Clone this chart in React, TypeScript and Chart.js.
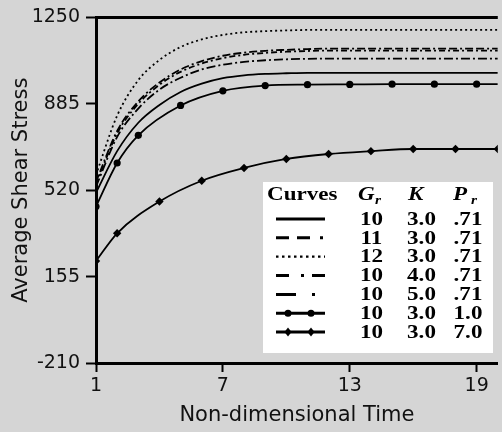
import React, { useEffect, useRef } from 'react';
import { Chart, registerables } from 'chart.js';

Chart.register(...registerables);

// ---- data ----
const timeSteps = [1, 2, 3, 4, 5, 6, 7, 8, 9, 10, 11, 12, 13, 14, 15, 16, 17, 18, 19, 20];
const stressGr10 = [510, 685, 805, 880, 935, 970, 993, 1005, 1011, 1014, 1016, 1016, 1016, 1016, 1016, 1016, 1016, 1016, 1016, 1016];
const stressGr11 = [555, 770, 895, 975, 1030, 1065, 1088, 1101, 1109, 1113, 1116, 1118, 1118, 1118, 1118, 1118, 1118, 1118, 1118, 1118];
const stressGr12 = [585, 835, 985, 1070, 1125, 1157, 1176, 1187, 1192, 1195, 1197, 1197, 1197, 1197, 1197, 1197, 1197, 1197, 1197, 1197];
const stressK4 = [545, 760, 885, 965, 1020, 1055, 1078, 1092, 1100, 1105, 1108, 1110, 1110, 1110, 1110, 1110, 1110, 1110, 1110, 1110];
const stressK5 = [535, 745, 865, 945, 995, 1030, 1050, 1062, 1069, 1073, 1075, 1076, 1076, 1076, 1076, 1076, 1076, 1076, 1076, 1076];
const timePr1 = [1, 2, 3, 5, 7, 9, 11, 13, 15, 17, 19, 20];
const stressPr1 = [451, 635, 752, 878, 940, 962, 966, 967, 968, 968, 968, 968];
const timePr7 = [1, 2, 4, 6, 8, 10, 12, 14, 16, 18, 20];
const stressPr7 = [221, 338, 472, 560, 614, 652, 673, 685, 694, 694, 694];

const xTicks = [1, 7, 13, 19];
const yTicks = [-210, 155, 520, 885, 1250];

const legendGr = ['10', '11', '12', '10', '10', '10', '10'];
const legendK = ['3.0', '3.0', '3.0', '4.0', '5.0', '3.0', '3.0'];
const legendPr = ['.71', '.71', '.71', '.71', '.71', '1.0', '7.0'];

const pts = (xs: number[], ys: number[]) => xs.map((x, i) => ({ x, y: ys[i] }));

const bgPlugin = {
  id: 'bg',
  beforeDraw(chart: any) {
    const ctx = chart.ctx;
    ctx.save();
    ctx.fillStyle = '#d5d5d5';
    ctx.fillRect(0, 0, chart.width, chart.height);
    ctx.restore();
  },
};

function txt(ctx: any, s: string, x: number, y: number, align: string, font: string, sx = 1.28) {
  ctx.save();
  ctx.translate(x, y);
  ctx.scale(sx, 1);
  ctx.font = font;
  ctx.textAlign = align;
  ctx.textBaseline = 'middle';
  ctx.fillStyle = '#000';
  ctx.fillText(s, 0, 0);
  ctx.restore();
}

const legendPlugin = {
  id: 'customLegend',
  afterDraw(chart: any) {
    const ctx = chart.ctx;
    ctx.save();
    ctx.fillStyle = '#ffffff';
    ctx.fillRect(263, 182, 230, 171);
    const bold = 'bold 18px "Liberation Serif"';
    const boldIt = 'italic bold 18px "Liberation Serif"';
    const sub = 'italic bold 12px "Liberation Serif"';
    const hy = 195;
    txt(ctx, 'Curves', 267, hy, 'left', bold);
    txt(ctx, 'G', 358, hy, 'left', boldIt);
    txt(ctx, 'r', 375, hy + 6, 'left', sub);
    txt(ctx, 'K', 408, hy, 'left', boldIt);
    txt(ctx, 'P', 453, hy, 'left', boldIt);
    txt(ctx, 'r', 471, hy + 6, 'left', sub);
    const dashes = [[], [13, 8, 13, 10, 3, 100], [2.5, 3.5], [13, 12, 3, 8, 13, 100], [20, 16, 3, 100], [], []];
    for (let i = 0; i < legendGr.length; i++) {
      const y = 220 + i * 18.85;
      txt(ctx, legendGr[i], 371.5, y, 'center', bold);
      txt(ctx, legendK[i], 421.5, y, 'center', bold);
      txt(ctx, legendPr[i], 468, y, 'center', bold);
      const ly = y - 1;
      ctx.save();
      ctx.strokeStyle = '#000';
      ctx.lineWidth = i === 2 ? 2.2 : 3;
      ctx.setLineDash(dashes[i]);
      ctx.beginPath();
      ctx.moveTo(276, ly);
      ctx.lineTo(325, ly);
      ctx.stroke();
      ctx.restore();
      if (i === 5) {
        ctx.fillStyle = '#000';
        [288, 311].forEach((cx) => {
          ctx.beginPath();
          ctx.arc(cx, ly, 3.5, 0, Math.PI * 2);
          ctx.fill();
        });
      }
      if (i === 6) {
        ctx.fillStyle = '#000';
        [288, 311].forEach((cx) => {
          ctx.beginPath();
          ctx.moveTo(cx, ly - 4.5);
          ctx.lineTo(cx + 3.5, ly);
          ctx.lineTo(cx, ly + 4.5);
          ctx.lineTo(cx - 3.5, ly);
          ctx.closePath();
          ctx.fill();
        });
      }
    }
    ctx.restore();
  },
};

export default function App() {
  const ref = useRef<HTMLCanvasElement>(null);
  useEffect(() => {
    const canvas = ref.current!;
    const base = {
      borderColor: '#000',
      backgroundColor: '#000',
      borderWidth: 1.8,
      pointRadius: 0,
      fill: false,
      cubicInterpolationMode: 'monotone' as const,
    };
    const chart = new Chart(canvas, {
      type: 'line',
      data: {
        datasets: [
          { ...base, label: 'Gr=10 K=3.0 Pr=.71', data: pts(timeSteps, stressGr10) },
          { ...base, label: 'Gr=11 K=3.0 Pr=.71', data: pts(timeSteps, stressGr11), borderDash: [8, 3, 8, 3, 2, 3] },
          { ...base, label: 'Gr=12 K=3.0 Pr=.71', data: pts(timeSteps, stressGr12), borderDash: [2, 3] },
          { ...base, label: 'Gr=10 K=4.0 Pr=.71', data: pts(timeSteps, stressK4), borderDash: [6, 3, 2, 3] },
          { ...base, label: 'Gr=10 K=5.0 Pr=.71', data: pts(timeSteps, stressK5), borderDash: [9, 3, 2, 3] },
          {
            ...base,
            label: 'Gr=10 K=3.0 Pr=1.0',
            data: pts(timePr1, stressPr1),
            pointStyle: 'circle',
            pointRadius: timePr1.map((t) => (t === 20 ? 0 : 3.6)),
            pointBorderWidth: 0,
          },
          {
            ...base,
            label: 'Gr=10 K=3.0 Pr=7.0',
            data: pts(timePr7, stressPr7),
            pointStyle: 'rectRot',
            pointRadius: 4.2,
            pointBorderWidth: 0,
          },
        ],
      },
      options: {
        responsive: false,
        animation: false,
        layout: { padding: { top: 14, right: 0, left: 0, bottom: 0 } },
        plugins: { legend: { display: false }, tooltip: { enabled: false } },
        scales: {
          x: {
            type: 'linear',
            min: 1,
            max: 20,
            afterBuildTicks: (s: any) => {
              s.ticks = xTicks.map((v) => ({ value: v }));
            },
            afterFit: (s: any) => {
              s.height = 69;
            },
            grid: { drawOnChartArea: false, tickLength: 9, tickColor: '#000', tickWidth: 2 },
            border: { color: '#000', width: 3 },
            ticks: {
              color: '#111',
              font: { family: 'DejaVu Sans', size: 19 },
              padding: 3,
              maxRotation: 0,
              callback: (v: any) => String(v),
            },
            title: {
              display: true,
              text: 'Non-dimensional Time',
              color: '#111',
              font: { family: 'DejaVu Sans', size: 21 },
              padding: { top: 0, bottom: 4 },
            },
          },
          y: {
            type: 'linear',
            min: -210,
            max: 1250,
            afterBuildTicks: (s: any) => {
              s.ticks = yTicks.map((v) => ({ value: v }));
            },
            afterFit: (s: any) => {
              s.width = 96;
            },
            grid: {
              color: (c: any) => (c.tick && c.tick.value === 1250 ? '#000' : 'rgba(0,0,0,0)'),
              lineWidth: 3,
              tickLength: 10,
              tickColor: '#000',
              tickWidth: 2,
            },
            border: { color: '#000', width: 3 },
            ticks: {
              color: '#111',
              font: { family: 'DejaVu Sans', size: 19 },
              padding: 6,
              callback: (v: any) => String(v),
            },
            title: {
              display: true,
              text: 'Average Shear Stress',
              color: '#111',
              font: { family: 'DejaVu Sans', size: 21 },
              padding: { top: 9, bottom: 0 },
            },
          },
        },
      } as any,
      plugins: [bgPlugin, legendPlugin],
    });
    return () => chart.destroy();
  }, []);
  return (
    <div style={{ position: 'absolute', left: 0, top: 0, width: 502, height: 432 }}>
      <canvas ref={ref} width={502} height={432} style={{ display: 'block' }} />
    </div>
  );
}
